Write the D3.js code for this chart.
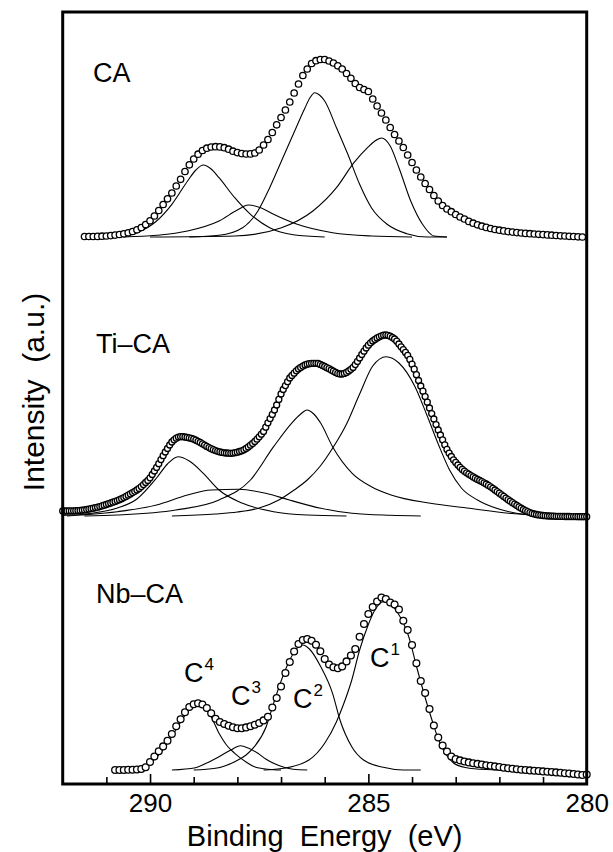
<!DOCTYPE html>
<html>
<head>
<meta charset="utf-8">
<script src="https://cdn.jsdelivr.net/npm/d3@7"></script>
<style>
body { margin: 0; background: #fff; }
text { font-family: "Liberation Sans", Arial, Helvetica, sans-serif; fill: #000; }
</style>
</head>
<body>
<div id="chart"></div>
<script>
// C 1s XPS spectra, intensity in a.u. above each panel baseline

var panelNames = ["CA", "Ti\u2013CA", "Nb\u2013CA"];
var peakSup = ["1", "2", "3", "4"];

// measured points: first binding energy (eV) and energy step
var caStart = 291.5, caStep = 0.1;
var caCounts = [
  0.5,0.5,0.5,0.6,0.8,1.0,1.4,1.9,2.5,3.2,
  4.2,5.5,7.2,9.5,12.5,16.2,21,26.5,32.5,38.2,
  44,51,57.7,65.5,72.2,78,82.8,86.5,88.8,90,
  90.3,90.1,89.3,87.8,85.8,84.4,83.4,83,83.1,84,
  87,92,97.5,104.5,112.2,119.5,127,135,144,153,
  161.5,168,173.5,176.3,177.5,177.5,176,174,171.2,168,
  163.5,158.7,153.5,149.5,147.5,145.5,138,131,124,117,
  109.5,102.5,96,89.5,82,74.5,67,60,53.5,47.5,
  41.5,36,31.5,28,25.3,22.5,20,18,15.6,13.8,
  12.2,10.8,9.6,8.5,7.5,6.8,6.1,5.4,4.9,4.4,
  4.0,3.6,3.3,3.0,2.7,2.4,2.1,1.8,1.5,1.2,
  1.0,0.7,0.5,0.2,0
];

var tiStart = 292.0, tiStep = 0.05;
var tiCounts = [
  5.0,5.0,5.0,5.1,5.1,5.2,5.3,5.4,5.6,5.8,6.1,6.5,6.9,7.3,7.8,8.3,8.8,9.4,10.1,10.8,
  11.5,12.3,13.0,13.8,14.6,15.4,16.3,17.3,18.4,19.6,20.8,22.1,23.4,24.7,26.0,27.6,29.4,31.4,33.5,35.5,
  38.2,41.5,45.0,48.6,52.3,56.4,60.3,64.0,67.5,71.0,74.0,76.2,77.8,78.9,79.3,79.3,79.0,78.6,78.1,77.6,
  76.8,75.8,74.7,73.5,72.2,70.9,69.6,68.4,67.3,66.3,65.4,64.7,64.1,63.6,63.2,63.0,62.8,62.7,62.9,63.3,
  63.8,64.5,65.2,66.2,67.5,69.0,70.8,72.6,74.6,76.8,79.2,81.8,84.6,88.8,93.2,97.4,101.6,106.0,111.0,116.6,
  122.0,126.5,130.4,134.3,138.0,140.6,142.8,145.2,147.0,148.6,149.9,151.0,151.8,152.3,152.6,152.7,152.7,152.5,151.6,150.5,
  149.5,148.3,147.3,146.0,144.8,143.6,142.6,142.0,142.0,142.6,143.6,145.0,146.7,148.6,151.4,154.6,158.0,161.5,164.8,168.0,
  170.8,173.2,175.0,176.6,178.0,179.2,180.2,180.8,181.0,180.7,179.8,178.5,177.0,174.8,172.0,169.2,166.4,163.6,160.6,156.6,
  151.8,146.8,141.3,135.5,130.0,124.8,119.4,113.8,108.0,102.4,97.0,91.4,86.0,81.0,76.2,71.2,66.6,62.8,59.5,56.2,
  53.6,51.0,48.7,46.6,44.8,43.2,41.8,40.4,39.1,37.8,36.6,35.5,34.4,33.2,32.0,30.6,29.2,27.7,26.0,24.4,
  22.8,21.2,19.6,17.9,16.3,14.8,13.3,11.9,10.5,9.1,7.8,6.5,5.3,4.3,3.4,2.6,2.0,1.5,1.1,0.8,
  0.5,0.3,0.1,0.0,-0.1,-0.2,-0.3,-0.3,-0.4,-0.4,-0.5,-0.5,-0.5,-0.6,-0.6,-0.6,-0.7,-0.7,-0.7,-0.7,
  -0.7
];

var nbStart = 290.8, nbStep = 0.1;
var nbCounts = [
  0,0,0,0.2,0.3,0.5,1.0,2.8,8.0,13.5,
  18.8,23.6,29.2,36,43.7,50.8,57.8,63,65.7,66.8,
  65.5,62,56.7,51.3,48,46,44.3,42.8,41.8,41.8,
  42.6,43.8,45.2,47,49.6,53.3,62.5,72,83.5,97,
  108,118.5,126,130,131,129.2,125.3,118.8,111,105.5,
  102.8,101.8,103.6,108.6,114.5,121,133.3,146,156,163,
  168.5,172.5,171,167.5,165.5,160.5,149.2,140,125,106.7,
  89,77,61,44.5,32.5,24.5,18.5,13.5,11,9.6,
  8.5,7.6,6.8,6.1,5.4,4.8,4.2,3.6,3.0,2.3,
  1.7,1.2,0.7,0.3,0,-0.4,-0.7,-1.0,-1.4,-1.7,
  -2.1,-2.4,-2.8,-3.2,-3.6,-4.0,-4.5,-5.0,-4.6
];

// fitted components [binding energy, intensity]
var caC1 = [[290.0,0],[288.06,1],[286.99,9.3],[286.27,26],[285.73,49.3],[285.33,74.3],[285.02,89.3],[284.85,96],[284.7,99],[284.5,91],[284.3,69.3],[284.03,36],[283.76,12.7],[283.5,1],[283.2,0]];
var caC2 = [[289.1,0],[288.42,1.7],[287.88,9.3],[287.53,26],[287.26,49.3],[286.99,76],[286.72,102.7],[286.45,129.3],[286.34,139],[286.23,144.3],[286.12,142],[286.0,136],[285.73,109.3],[285.47,82.7],[285.2,52.7],[284.93,29.3],[284.57,12.7],[284.12,3.3],[283.65,0],[283.2,0]];
var caC3 = [[290.6,0],[289.85,1.7],[289.14,6],[288.42,16],[288.0,27],[287.75,32],[287.45,29],[287.17,22.7],[286.63,12.7],[285.82,4.3],[284.93,1],[284.0,0]];
var caC4 = [[290.6,0.8],[290.3,4.3],[289.85,16],[289.5,32.7],[289.14,56],[288.95,67],[288.78,72],[288.6,68],[288.42,59.3],[288.06,39.3],[287.7,22.7],[287.26,9.3],[286.72,2.3],[286.0,0]];

var tiC1 = [[289.5,0],[288.5,2],[288.0,4],[287.5,8],[287.05,16],[286.7,26],[286.4,36],[286.1,50],[285.82,67.7],[285.5,92],[285.2,122],[284.9,150],[284.59,159.3],[284.3,153],[283.94,130],[283.67,102],[283.4,72],[283.14,46],[282.87,28],[282.5,16],[282.15,9],[281.8,4.5],[281.4,1.5],[281.0,0.3],[280.5,0]];
var tiC2 = [[291.5,0],[290.75,1],[289.41,6],[288.42,16],[287.7,36],[287.17,69.3],[286.76,92.7],[286.55,102],[286.41,106],[286.25,102],[286.09,92.7],[285.82,69.3],[285.37,42.7],[284.93,29.3],[284.48,21],[283.58,12.7],[282.69,7.7],[281.79,2.7],[281.0,0.5],[280.5,0]];
var tiC3 = [[291.9,0],[291.6,1],[290.75,4.3],[289.85,11],[289.14,21],[288.6,26],[287.97,26.7],[287.35,22.7],[286.81,16],[286.09,7.7],[285.37,2.7],[284.5,0.7],[283.8,0]];
var tiC4 = [[292.0,0.5],[291.37,2.5],[290.75,8],[290.3,17],[289.85,38],[289.6,52],[289.36,59.3],[289.1,55],[288.78,42.7],[288.42,26],[287.88,12.7],[287.17,4.3],[286.4,1],[285.5,0]];

var nbC1 = [[287.4,0],[286.94,1.7],[286.36,10],[286.0,26.7],[285.73,48.3],[285.56,66.7],[285.38,90],[285.2,120],[285.02,143.3],[284.85,160],[284.66,168.3],[284.5,166],[284.34,158],[284.2,147],[284.08,134],[283.9,104],[283.67,68],[283.5,44],[283.41,32],[283.23,16],[283.05,7],[282.78,2.5],[282.3,0.5],[281.8,0],[281.0,0]];
var nbC2 = [[289.0,0],[288.5,1.7],[288.06,8.3],[287.8,15],[287.61,23.3],[287.34,43.3],[287.17,66.7],[286.99,90],[286.8,110],[286.65,121],[286.5,125],[286.35,121],[286.09,103.3],[285.82,76.7],[285.65,50],[285.38,23.3],[285.11,10],[284.66,2.7],[284.2,0],[283.8,0]];
var nbC3 = [[289.5,0],[288.96,2.3],[288.7,7],[288.42,13.3],[288.15,20],[287.93,24.3],[287.75,22],[287.53,16.7],[287.35,11],[287.17,6.7],[286.95,3],[286.72,0.7],[286.4,0]];
var nbC4 = [[290.5,0],[290.2,2],[289.94,9],[289.67,22],[289.41,40],[289.14,58],[288.9,66],[288.75,63],[288.6,53.3],[288.42,36.7],[288.25,25],[288.06,16.7],[287.8,8],[287.61,3.3],[287.3,0.8],[287.0,0]];

// x axis ticks
var majorTicks = [290, 285, 280];
var minorTicks = [291, 289, 288, 287, 286, 284, 283, 282, 281];

// Set SVG wrapper dimensions
var svgWidth = 613;
var svgHeight = 852;

var svg = d3.select("#chart")
  .append("svg")
  .attr("width", svgWidth)
  .attr("height", svgHeight);

var plotLeft = 62.7, plotRight = 586.7, plotTop = 12, plotBottom = 784;

var xScale = d3.scaleLinear().domain([292, 280]).range([plotLeft, plotRight]);
var yScale = d3.scaleLinear().domain([0, 772]).range([plotBottom, plotTop]);

// vertical offset of each stacked spectrum
var panels = [
  {name: panelNames[0], start: caStart, step: caStep, counts: caCounts, comps: [caC1, caC2, caC3, caC4], offset: 547, r: 3.2, sw: 1.3, lx: 93, ly: 82},
  {name: panelNames[1], start: tiStart, step: tiStep, counts: tiCounts, comps: [tiC1, tiC2, tiC3, tiC4], offset: 268, r: 3.0, sw: 1.3, lx: 96, ly: 353},
  {name: panelNames[2], start: nbStart, step: nbStep, counts: nbCounts, comps: [nbC1, nbC2, nbC3, nbC4], offset: 14, r: 3.4, sw: 1.3, lx: 96, ly: 603}
];

panels.forEach(function(p) {
  var g = svg.append("g");

  var line = d3.line()
    .x(d => xScale(d[0]))
    .y(d => yScale(d[1] + p.offset))
    .curve(d3.curveMonotoneX);

  g.selectAll("path.comp")
    .data(p.comps)
    .enter()
    .append("path")
    .attr("class", "comp")
    .attr("d", line)
    .attr("fill", "none")
    .attr("stroke", "#000")
    .attr("stroke-width", 1.1);

  var pts = p.counts.map((c, i) => ({e: +(p.start - i * p.step).toFixed(3), c: c}));

  g.selectAll("circle")
    .data(pts)
    .enter()
    .append("circle")
    .attr("cx", d => xScale(d.e))
    .attr("cy", d => yScale(d.c + p.offset))
    .attr("r", p.r)
    .attr("fill", "#fff")
    .attr("stroke", "#000")
    .attr("stroke-width", p.sw);

  g.append("text")
    .attr("x", p.lx)
    .attr("y", p.ly)
    .attr("font-size", "27px")
    .text(p.name);
});

// peak labels on the Nb-CA spectrum
var peakPos = [[370, 667], [293, 708], [231, 705], [184, 682]];
peakSup.forEach(function(s, i) {
  var t = svg.append("text")
    .attr("x", peakPos[i][0])
    .attr("y", peakPos[i][1])
    .attr("font-size", "27px")
    .text("C");
  t.append("tspan")
    .attr("font-size", "17px")
    .attr("dx", 1)
    .attr("dy", -12)
    .text(s);
});

// axes
var majorAxis = d3.axisBottom(xScale)
  .tickValues(majorTicks)
  .tickSizeInner(-10)
  .tickSizeOuter(0)
  .tickPadding(10)
  .tickFormat(d3.format("d"));

var minorAxis = d3.axisBottom(xScale)
  .tickValues(minorTicks)
  .tickSizeInner(-7)
  .tickSizeOuter(0)
  .tickFormat("");

var gMinor = svg.append("g").attr("transform", `translate(0, ${plotBottom})`).call(minorAxis);
var gMajor = svg.append("g").attr("transform", `translate(0, ${plotBottom})`).call(majorAxis);
[gMinor, gMajor].forEach(function(a) {
  a.select(".domain").remove();
  a.selectAll("line").attr("stroke", "#000").attr("stroke-width", 1.6);
});
gMajor.selectAll("text")
  .attr("font-size", "26px")
  .attr("font-family", "Liberation Sans, Arial, sans-serif")
  .attr("fill", "#000");

// frame
svg.append("rect")
  .attr("x", plotLeft)
  .attr("y", plotTop)
  .attr("width", plotRight - plotLeft)
  .attr("height", plotBottom - plotTop)
  .attr("fill", "none")
  .attr("stroke", "#000")
  .attr("stroke-width", 3);

// axis labels
svg.append("text")
  .attr("x", (plotLeft + plotRight) / 2)
  .attr("y", 846)
  .attr("text-anchor", "middle")
  .attr("font-size", "29px")
  .style("white-space", "pre")
  .text("Binding  Energy  (eV)");

svg.append("text")
  .attr("transform", "translate(44, 392) rotate(-90)")
  .attr("text-anchor", "middle")
  .attr("font-size", "30px")
  .style("white-space", "pre")
  .text("Intensity  (a.u.)");
</script>
</body>
</html>
